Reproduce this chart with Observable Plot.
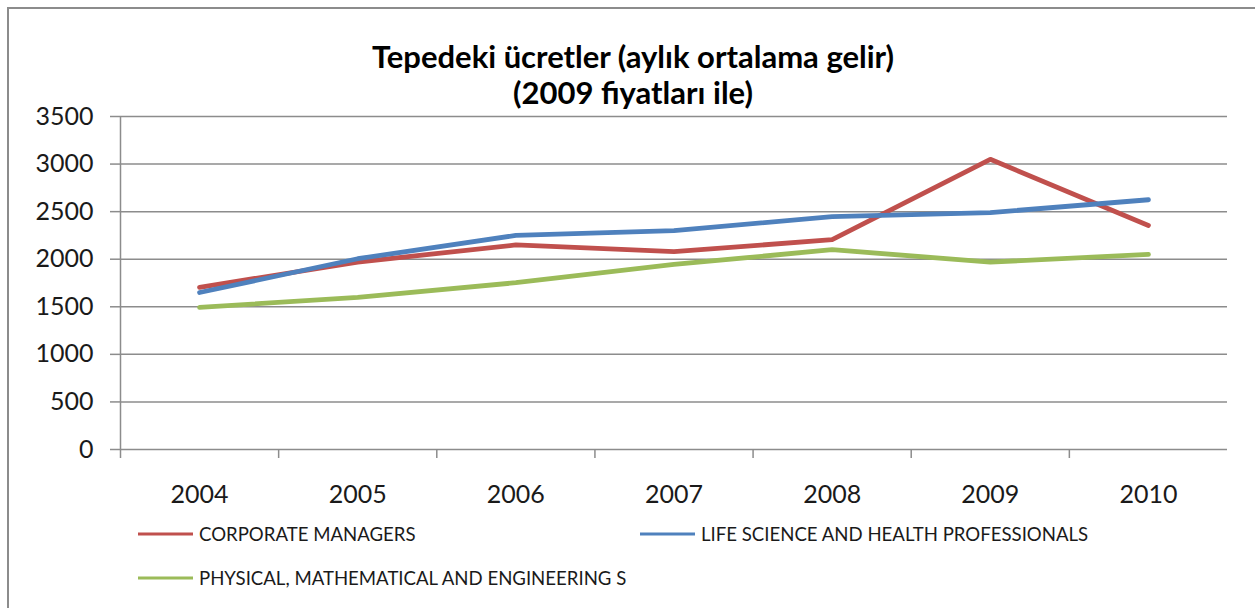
<!DOCTYPE html>
<html><head><meta charset="utf-8">
<script src="https://cdn.jsdelivr.net/npm/d3@7"></script>
<script src="https://cdn.jsdelivr.net/npm/@observablehq/plot@0.6"></script>
<style>
html,body{margin:0;padding:0;background:#fff;overflow:hidden}
#wrap{position:relative;width:1255px;height:608px;overflow:hidden;font-family:Lato,sans-serif}
#frame{position:absolute;left:7px;top:7px;width:1400px;height:800px;border:2px solid #8c8c8c;box-sizing:border-box}
#chart{position:absolute;left:0;top:0}
#overlay{position:absolute;left:0;top:0}
</style></head>
<body><div id="wrap"><div id="frame"></div><div id="chart"></div><svg id="overlay" width="1255" height="608"></svg></div>
<script>
const years = [2004, 2005, 2006, 2007, 2008, 2009, 2010];
const corporateManagers = [1705, 1970, 2150, 2080, 2205, 3050, 2355];
const lifeScience = [1650, 2005, 2250, 2300, 2448, 2490, 2625];
const physicalMath = [1493, 1600, 1753, 1945, 2100, 1970, 2050];
const seriesNames = ["CORPORATE MANAGERS", "LIFE SCIENCE AND HEALTH PROFESSIONALS", "PHYSICAL, MATHEMATICAL AND ENGINEERING S"];
const seriesColors = ["#C0504D", "#4F81BD", "#9BBB59"];
const yTicks = [0, 500, 1000, 1500, 2000, 2500, 3000, 3500];
const titleLines = ["Tepedeki ücretler (aylık ortalama gelir)", "(2009 fiyatları ile)"];

const seriesValues = [corporateManagers, lifeScience, physicalMath];
const data = seriesValues.flatMap((vals, i) => years.map((yr, j) => ({series: seriesNames[i], year: yr, value: vals[j]})));
const bounds = years.map(y => y - 0.5);
const gray = "#8c8c8c";

const chart = Plot.plot({
  width: 1255, height: 608,
  marginLeft: 120, marginRight: 28, marginTop: 116, marginBottom: 159,
  x: {type: "linear", domain: [years[0] - 0.5, years[years.length - 1] + 0.5], label: null},
  y: {domain: [0, 3500], label: null},
  color: {domain: seriesNames, range: seriesColors},
  style: {fontFamily: "Lato, sans-serif", fontSize: "25px", color: "#000", background: "transparent", overflow: "visible"},
  marks: [
    Plot.gridY(yTicks, {stroke: gray, strokeOpacity: 1, strokeWidth: 1.5}),
    Plot.ruleX([bounds[0]], {y1: 0, y2: 3500, stroke: gray, strokeWidth: 1.5}),
    Plot.axisY(yTicks, {tickSize: 10, tickPadding: 17, stroke: gray, strokeWidth: 1.5, fill: "#1a1a1a", tickFormat: d => String(d)}),
    Plot.axisX(bounds, {tickSize: 9, stroke: gray, strokeWidth: 1.5, tickFormat: () => ""}),
    Plot.axisX(years, {tickSize: 0, tickPadding: 36, fill: "#1a1a1a", tickFormat: d => String(d)}),
    Plot.lineY(data, {x: "year", y: "value", z: "series", stroke: "series", strokeWidth: 4.8, strokeLinejoin: "round", strokeLinecap: "round"})
  ]
});
document.getElementById("chart").appendChild(chart);

const ov = d3.select("#overlay");
const tb = [68, 104];
titleLines.forEach((t, i) => {
  ov.append("text").attr("x", 633).attr("y", tb[i]).attr("text-anchor", "middle")
    .attr("font-family", "Lato, sans-serif").attr("font-weight", "bold").attr("font-size", 31)
    .attr("fill", "#000").text(t);
});
const legendPos = [[138, 534], [640, 534], [138, 578]];
seriesNames.forEach((n, i) => {
  const [lx, ly] = legendPos[i];
  ov.append("line").attr("x1", lx).attr("x2", lx + 55).attr("y1", ly).attr("y2", ly)
    .attr("stroke", seriesColors[i]).attr("stroke-width", 3.2);
  ov.append("text").attr("x", lx + 61).attr("y", ly + 7).attr("font-family", "Lato, sans-serif")
    .attr("font-size", 18.6).attr("fill", "#1a1a1a").text(n);
});
</script></body></html>
